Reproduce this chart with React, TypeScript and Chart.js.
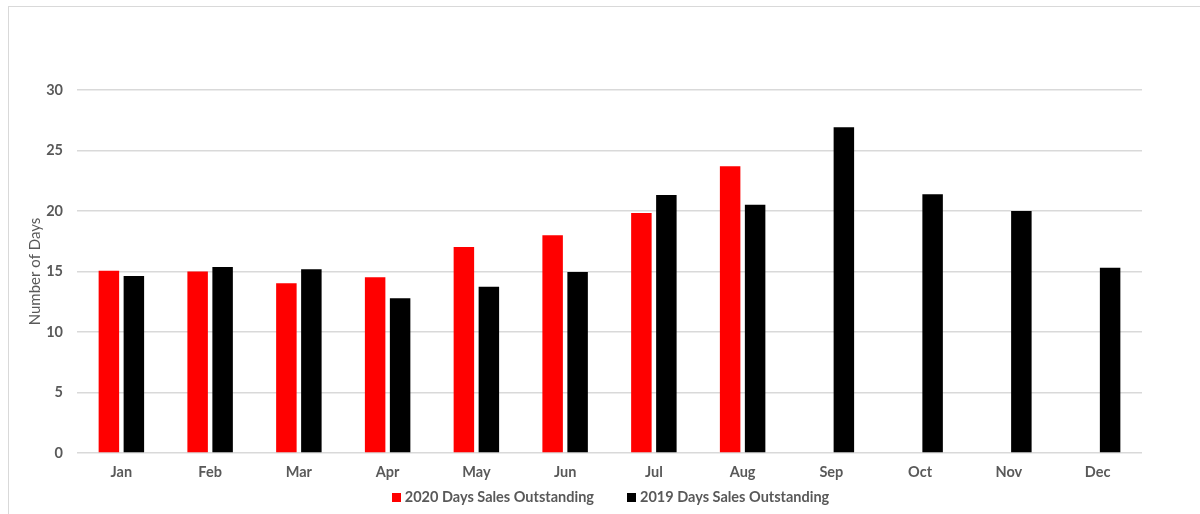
import React, { useEffect, useRef } from "react";
import { Chart, registerables } from "chart.js";

Chart.register(...registerables);

const months = ["Jan", "Feb", "Mar", "Apr", "May", "Jun", "Jul", "Aug", "Sep", "Oct", "Nov", "Dec"];
const dso2020: (number | null)[] = [15.07, 15.0, 14.02, 14.52, 17.02, 17.99, 19.83, 23.69, null, null, null, null];
const dso2019: number[] = [14.63, 15.37, 15.18, 12.78, 13.74, 14.96, 21.32, 20.52, 26.92, 21.38, 20.0, 15.31];
const seriesLabels = ["2020 Days Sales Outstanding", "2019 Days Sales Outstanding"];
const seriesColors = ["#ff0000", "#000000"];
const yTitle = "Number of Days";

const FONT = "Lato, 'Open Sans', sans-serif";
const TEXT = "#595959";

export default function App() {
  const ref = useRef<HTMLCanvasElement | null>(null);
  useEffect(() => {
    if (!ref.current) return;
    const chart = new Chart(ref.current, {
      type: "bar",
      data: {
        labels: months,
        datasets: [
          {
            label: seriesLabels[0],
            data: dso2020,
            backgroundColor: seriesColors[0],
            categoryPercentage: 0.563,
            barPercentage: 0.82,
          },
          {
            label: seriesLabels[1],
            data: dso2019,
            backgroundColor: seriesColors[1],
            categoryPercentage: 0.563,
            barPercentage: 0.82,
          },
        ],
      },
      options: {
        animation: false,
        responsive: true,
        maintainAspectRatio: false,
        layout: { padding: { top: 90, right: 58, left: 0, bottom: 21 } },
        plugins: {
          tooltip: { enabled: false },
          legend: { display: false },
        },
        scales: {
          x: {
            grid: { display: false, drawTicks: false },
            border: { display: false },
            ticks: { color: TEXT, padding: 11, font: { family: FONT, size: 14.5, weight: "bold" } },
            afterFit: (s: any) => {
              s.height = 40;
            },
          },
          y: {
            min: 0,
            max: 30,
            ticks: { stepSize: 5, color: TEXT, padding: 14, font: { family: FONT, size: 14.5, weight: "bold" } },
            grid: { color: "#d9d9d9", lineWidth: 1.5, drawTicks: false },
            border: { display: false },
            title: {
              display: true,
              text: yTitle,
              color: TEXT,
              padding: { top: 26, bottom: 0 },
              font: { family: FONT, size: 15 },
            },
            afterFit: (s: any) => {
              s.width = 77;
            },
          },
        },
      },
    });
    return () => chart.destroy();
  }, []);
  return (
    <div style={{ position: "fixed", left: 0, top: 0, width: 1200, height: 514, background: "#fff" }}>
      <div
        style={{
          position: "absolute",
          left: 8,
          top: 6,
          width: 1200,
          height: 520,
          border: "1.5px solid #d9d9d9",
          boxSizing: "border-box",
        }}
      />
      <div style={{ position: "absolute", left: 0, top: 0, width: 1200, height: 514 }}>
        <canvas ref={ref} />
      </div>
      <div
        style={{
          position: "absolute",
          left: 0,
          width: 1221,
          top: 487,
          display: "flex",
          justifyContent: "center",
          alignItems: "center",
          fontFamily: FONT,
          fontWeight: "bold",
          fontSize: 14.5,
          color: TEXT,
          lineHeight: "20px",
        }}
      >
        {seriesLabels.map((l, i) => (
          <div key={l} style={{ display: "flex", alignItems: "center", marginLeft: i ? 33 : 0 }}>
            <span style={{ width: 9, height: 9, background: seriesColors[i], marginRight: 4, display: "inline-block" }} />
            <span>{l}</span>
          </div>
        ))}
      </div>
    </div>
  );
}
